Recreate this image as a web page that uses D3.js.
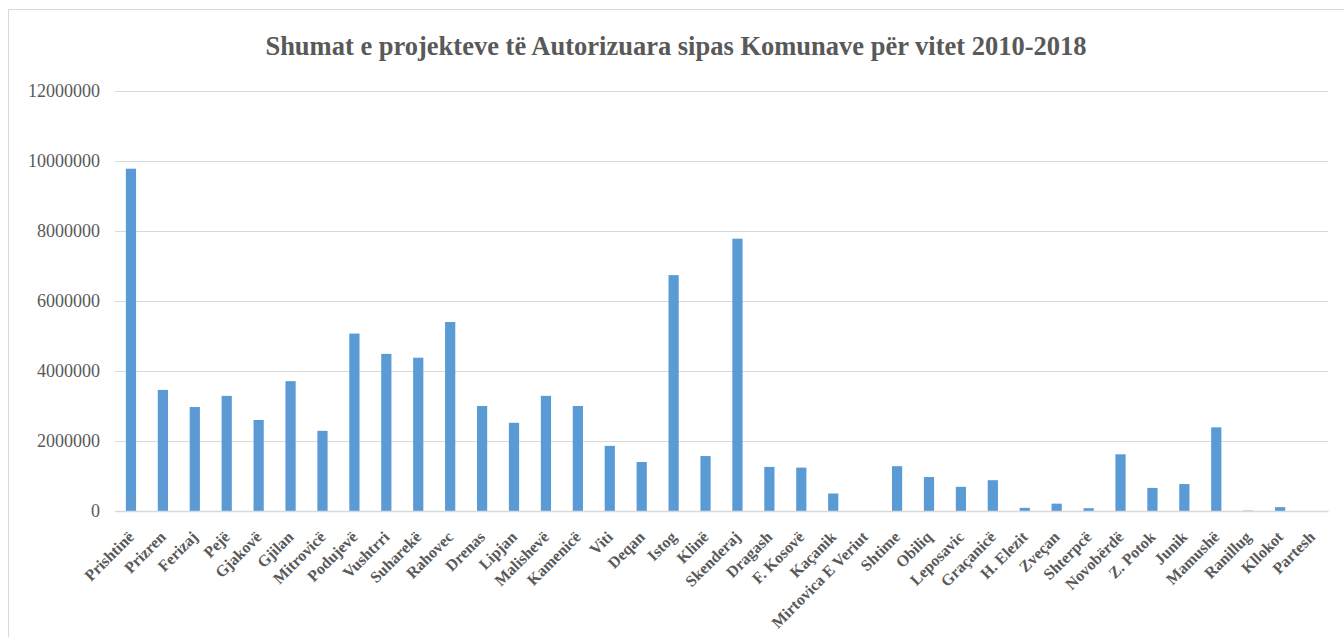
<!DOCTYPE html>
<html><head><meta charset="utf-8">
<script src="https://cdn.jsdelivr.net/npm/d3@7"></script>
<style>body{margin:0;background:#fff}svg{display:block}</style>
</head><body>
<script>
const title = "Shumat e projekteve të Autorizuara sipas Komunave për vitet 2010-2018";
const categories = ["Prishtinë","Prizren","Ferizaj","Pejë","Gjakovë","Gjilan","Mitrovicë","Podujevë","Vushtrri","Suharekë","Rahovec","Drenas","Lipjan","Malishevë","Kamenicë","Viti","Deqan","Istog","Klinë","Skenderaj","Dragash","F. Kosovë","Kaçanik","Mirtovica E Veriut","Shtime","Obiliq","Leposavic","Graçanicë","H. Elezit","Zveçan","Shterpcë","Novobërdë","Z. Potok","Junik","Mamushë","Ranillug","Kllokot","Partesh"];
const values = [9780000,3460000,2970000,3290000,2600000,3710000,2290000,5070000,4490000,4380000,5400000,3000000,2520000,3290000,3000000,1860000,1400000,6740000,1570000,7780000,1260000,1240000,500000,0,1280000,970000,690000,880000,90000,210000,80000,1620000,660000,770000,2390000,10000,110000,0];
const yTicks = [0,2000000,4000000,6000000,8000000,10000000,12000000];

const W=1344,H=637;
const svg=d3.select("body").append("svg").attr("width",W).attr("height",H);
svg.append("rect").attr("x",8.5).attr("y",9.5).attr("width",W).attr("height",H).attr("fill","none").attr("stroke","#d9d9d9");

const x=d3.scaleBand().domain(categories).range([115,1328]).paddingInner(0.68).paddingOuter(0.34);
const y=d3.scaleLinear().domain([0,12000000]).range([511,91]);

svg.append("text").attr("x",676).attr("y",55).attr("text-anchor","middle")
  .attr("font-family","Liberation Serif").attr("font-weight","bold").attr("font-size",26.5).attr("fill","#595959").text(title);

const ya=svg.append("g").attr("transform","translate(115,0)")
  .call(d3.axisLeft(y).tickValues(yTicks).tickSize(-1213).tickFormat(d3.format("d")).tickPadding(15));
ya.select(".domain").remove();
ya.selectAll(".tick line").attr("stroke","#d9d9d9");
ya.selectAll(".tick text").attr("font-family","Liberation Serif").attr("font-size",18).attr("fill","#595959");

svg.selectAll("rect.bar").data(values).join("rect").attr("class","bar")
  .attr("x",(d,i)=>x(categories[i])).attr("width",x.bandwidth())
  .attr("y",d=>y(d)).attr("height",d=>y(0)-y(d)).attr("fill","#5b9bd5");

const xa=svg.append("g").attr("transform","translate(0,511)").call(d3.axisBottom(x).tickSize(0).tickPadding(0));
xa.select(".domain").attr("stroke","#d9d9d9").attr("stroke-width",1.5);
xa.selectAll(".tick text").attr("font-family","Liberation Serif").attr("font-weight","bold").attr("font-size",16).attr("fill","#595959")
  .attr("text-anchor","end").attr("y",0).attr("dy",0).attr("transform","translate(4,27) rotate(-45)");
</script>
</body></html>
